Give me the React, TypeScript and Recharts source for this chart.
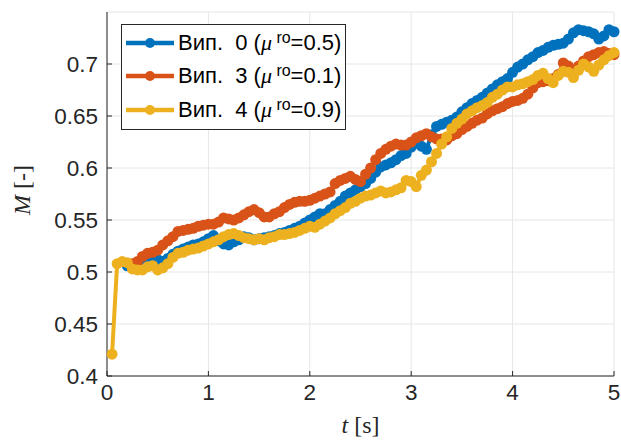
import { LineChart, Line, XAxis, YAxis, CartesianGrid, Legend } from 'recharts';

// time grid [s]
const TIME = [
  0.05, 0.1, 0.15, 0.2, 0.25, 0.3, 0.35, 0.4, 0.45, 0.5,
  0.55, 0.6, 0.65, 0.7, 0.75, 0.8, 0.85, 0.9, 0.95, 1.0,
  1.05, 1.1, 1.15, 1.2, 1.25, 1.3, 1.35, 1.4, 1.45, 1.5,
  1.55, 1.6, 1.65, 1.7, 1.75, 1.8, 1.85, 1.9, 1.95, 2.0,
  2.05, 2.1, 2.15, 2.2, 2.25, 2.3, 2.35, 2.4, 2.45, 2.5,
  2.55, 2.6, 2.65, 2.7, 2.75, 2.8, 2.85, 2.9, 2.95, 3.0,
  3.05, 3.1, 3.15, 3.2, 3.25, 3.3, 3.35, 3.4, 3.45, 3.5,
  3.55, 3.6, 3.65, 3.7, 3.75, 3.8, 3.85, 3.9, 3.95, 4.0,
  4.05, 4.1, 4.15, 4.2, 4.25, 4.3, 4.35, 4.4, 4.45, 4.5,
  4.55, 4.6, 4.65, 4.7, 4.75, 4.8, 4.85, 4.9, 4.95, 5.0,
];

// Вип. 0 (mu_ro = 0.5)
const VAR0 = [
  null, null, null, 0.506, 0.507, 0.508, 0.509, 0.511, 0.51, 0.512,
  0.51, 0.513, 0.517, 0.52, 0.522, 0.524, 0.526, 0.527, 0.529, 0.532,
  0.535, 0.53, 0.527, 0.526, 0.529, 0.531, 0.534, 0.533, 0.531, 0.532,
  0.533, 0.534, 0.535, 0.537, 0.538, 0.54, 0.542, 0.544, 0.547, 0.55,
  0.553, 0.556, 0.556, 0.56, 0.564, 0.568, 0.573, 0.576, 0.579, 0.582,
  0.585, 0.59, 0.596, 0.601, 0.603, 0.605, 0.608, 0.612, 0.614, 0.62,
  0.624, 0.621, 0.618, 0.632, 0.64, 0.642, 0.644, 0.646, 0.649, 0.654,
  0.658, 0.662, 0.665, 0.668, 0.672, 0.676, 0.68, 0.683, 0.686, 0.692,
  0.697, 0.7, 0.704, 0.707, 0.711, 0.713, 0.716, 0.718, 0.719, 0.72,
  0.724, 0.73, 0.733, 0.732, 0.731, 0.729, 0.724, 0.727, 0.733, 0.731,
];

// Вип. 3 (mu_ro = 0.1)
const VAR3 = [
  null, null, null, null, 0.508, 0.51, 0.515, 0.518, 0.519, 0.521,
  0.526, 0.53, 0.534, 0.539, 0.54, 0.541, 0.542, 0.544, 0.545, 0.546,
  0.546, 0.548, 0.552, 0.551, 0.55, 0.552, 0.555, 0.558, 0.56, 0.557,
  0.553, 0.553, 0.556, 0.558, 0.562, 0.565, 0.567, 0.568, 0.568, 0.569,
  0.571, 0.573, 0.575, 0.577, 0.585, 0.588, 0.59, 0.592, 0.589, 0.587,
  0.594, 0.6, 0.608, 0.614, 0.618, 0.621, 0.623, 0.622, 0.622, 0.625,
  0.629, 0.631, 0.633, 0.63, 0.628, 0.628, 0.627, 0.631, 0.633, 0.637,
  0.64, 0.643, 0.646, 0.648, 0.652, 0.655, 0.657, 0.659, 0.662, 0.664,
  0.665, 0.667, 0.671, 0.677, 0.682, 0.683, 0.684, 0.686, 0.69, 0.701,
  0.698, 0.694, 0.698, 0.703, 0.707, 0.709, 0.711, 0.712, 0.71, 0.709,
];

// Вип. 4 (mu_ro = 0.9)
const VAR4 = [
  0.421, 0.508, 0.51, 0.509, 0.503, 0.502, 0.502, 0.505, 0.506, 0.502,
  0.504, 0.508, 0.514, 0.518, 0.519, 0.521, 0.522, 0.523, 0.525, 0.527,
  0.529, 0.531, 0.534, 0.536, 0.537, 0.535, 0.533, 0.532, 0.531, 0.532,
  0.531, 0.533, 0.534, 0.536, 0.536, 0.537, 0.538, 0.54, 0.542, 0.544,
  0.543, 0.546, 0.549, 0.552, 0.556, 0.559, 0.562, 0.566, 0.568, 0.571,
  0.573, 0.574, 0.576, 0.578, 0.576, 0.577, 0.579, 0.581, 0.588, 0.587,
  0.582, 0.593, 0.598, 0.606, 0.614, 0.623, 0.63, 0.638, 0.643, 0.647,
  0.652, 0.655, 0.658, 0.66, 0.663, 0.668, 0.671, 0.675, 0.678, 0.678,
  0.68, 0.681, 0.683, 0.685, 0.689, 0.691, 0.686, 0.682, 0.689, 0.693,
  0.692, 0.687, 0.694, 0.7, 0.697, 0.693, 0.699, 0.704, 0.708, 0.711,
];

const X_TICKS = [0, 1, 2, 3, 4, 5];
const Y_TICKS = [0.4, 0.45, 0.5, 0.55, 0.6, 0.65, 0.7];

const SERIES = [
  { key: 'v0', variant: '0', mu: '0.5', color: '#0072BD' },
  { key: 'v3', variant: '3', mu: '0.1', color: '#D95319' },
  { key: 'v4', variant: '4', mu: '0.9', color: '#EDB120' },
];

const data = TIME.map((t, i) => ({ t, v0: VAR0[i], v3: VAR3[i], v4: VAR4[i] }));

const AXIS_COLOR = '#262626';
const SANS = '"Liberation Sans", Arial, Helvetica, sans-serif';
const SERIF = '"Liberation Serif", "Times New Roman", serif';

const fmtY = (v: number) => String(Number(v.toFixed(2)));

function XTitle(props: any) {
  const { x, y, width } = props.viewBox;
  return (
    <text x={x + width / 2} y={y + 57} textAnchor="middle" fontFamily={SERIF} fontSize={24} fill={AXIS_COLOR}>
      <tspan fontStyle="italic">t</tspan> [s]
    </text>
  );
}

function YTitle() {
  const cx = 30;
  const cy = 190;
  return (
    <text x={cx} y={cy} transform={`rotate(-90 ${cx} ${cy})`} textAnchor="middle" fontFamily={SERIF} fontSize={24} fill={AXIS_COLOR}>
      <tspan fontStyle="italic">M</tspan> [-]
    </text>
  );
}

function LegendBox() {
  return (
    <div
      style={{
        border: `1px solid ${AXIS_COLOR}`,
        background: '#fff',
        padding: '1px 4px 2px 3px',
        fontFamily: SANS,
        fontSize: 22,
        color: '#000',
      }}
    >
      {SERIES.map((s) => (
        <div key={s.key} style={{ display: 'flex', alignItems: 'center', height: 33.5 }}>
          <svg width={50} height={12} style={{ flex: 'none' }}>
            <line x1={1} x2={49} y1={6} y2={6} stroke={s.color} strokeWidth={4.5} />
            <circle cx={25} cy={6} r={5} fill={s.color} />
          </svg>
          <span style={{ marginLeft: 3, whiteSpace: 'pre' }}>
            {`Вип.  ${s.variant} (`}
            <span style={{ fontFamily: SERIF, fontStyle: 'italic' }}>μ</span>
            <span style={{ fontSize: 16, position: 'relative', top: -7 }}> ro</span>
            {`=${s.mu})`}
          </span>
        </div>
      ))}
    </div>
  );
}

export default function App() {
  return (
    <div style={{ position: 'absolute', left: 0, top: 0, width: 621, height: 441, background: '#fff' }}>
      <LineChart width={621} height={441} data={data} margin={{ top: 12, right: 7, bottom: 25, left: 47 }}>
        <CartesianGrid stroke="#e6e6e6" strokeWidth={1} />
        <XAxis
          dataKey="t"
          type="number"
          domain={[0, 5]}
          ticks={X_TICKS}
          height={40}
          axisLine={{ stroke: AXIS_COLOR }}
          tickLine={{ stroke: AXIS_COLOR }}
          tickSize={-5}
          tickMargin={13}
          tick={{ fontFamily: SANS, fontSize: 22.5, fill: AXIS_COLOR }}
          label={{ content: XTitle }}
        />
        <XAxis
          xAxisId="top"
          orientation="top"
          dataKey="t"
          type="number"
          domain={[0, 5]}
          ticks={X_TICKS}
          height={0}
          axisLine={{ stroke: AXIS_COLOR }}
          tickLine={{ stroke: AXIS_COLOR }}
          tickSize={-5}
          tickFormatter={() => ''}
        />
        <YAxis
          type="number"
          domain={[0.4, 0.75]}
          ticks={Y_TICKS}
          width={60}
          axisLine={{ stroke: AXIS_COLOR }}
          tickLine={{ stroke: AXIS_COLOR }}
          tickSize={-5}
          tickMargin={14}
          tickFormatter={fmtY}
          tick={{ fontFamily: SANS, fontSize: 22.5, fill: AXIS_COLOR }}
          label={{ content: YTitle }}
        />
        <YAxis
          yAxisId="right"
          orientation="right"
          type="number"
          domain={[0.4, 0.75]}
          ticks={Y_TICKS}
          width={0}
          axisLine={{ stroke: AXIS_COLOR }}
          tickLine={{ stroke: AXIS_COLOR }}
          tickSize={-5}
          tickFormatter={() => ''}
        />
        <Legend
          layout="vertical"
          align="center"
          verticalAlign="middle"
          content={<LegendBox />}
          wrapperStyle={{ left: 121, top: 24, width: 'auto', height: 'auto' }}
        />
        {SERIES.map((s) => (
          <Line
            key={s.key}
            dataKey={s.key}
            stroke={s.color}
            strokeWidth={4}
            dot={{ r: 5.5, fill: s.color, stroke: s.color, strokeWidth: 0 }}
            activeDot={false}
            isAnimationActive={false}
          />
        ))}
      </LineChart>
    </div>
  );
}
